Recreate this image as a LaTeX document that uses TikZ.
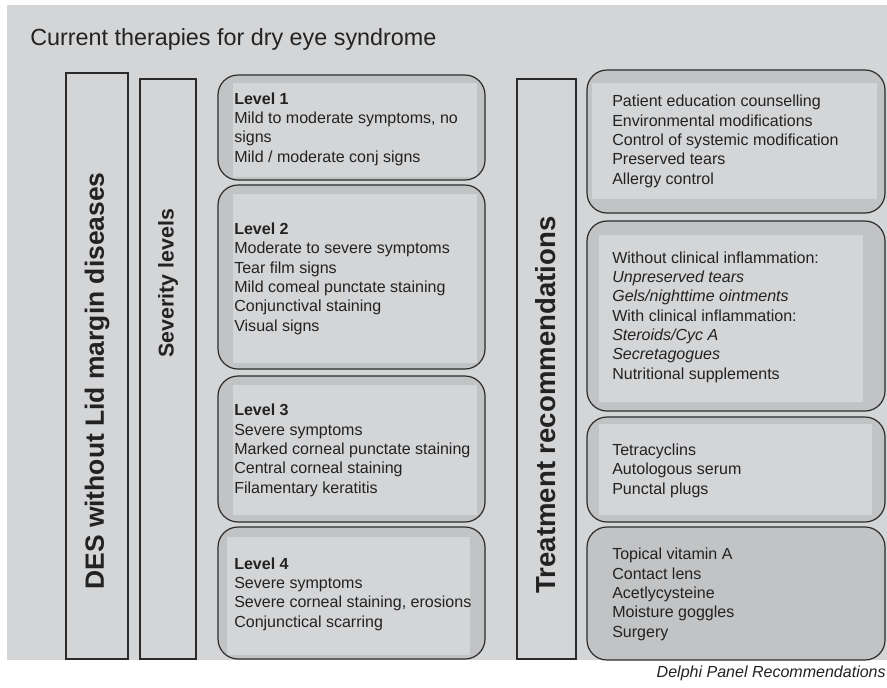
\documentclass[tikz,border=0pt]{standalone}
\usepackage{fontspec}
\setmainfont{Liberation Sans}
\usetikzlibrary{positioning}

\definecolor{panelgrey}{HTML}{D4D5D7}
\definecolor{shadegrey}{HTML}{C2C3C5}
\definecolor{edge}{HTML}{2B2B2B}
\definecolor{ink}{HTML}{222222}

\newcommand{\bodyfont}{\fontsize{11.4}{13.7}\selectfont}

\begin{document}
\begin{tikzpicture}[x=0.025cm, y=-0.025cm,
  bar/.style={draw=edge, line width=0.85pt, fill=panelgrey},
  card/.style={draw=edge, line width=0.85pt, rounded corners=5mm},
  % multi-line nodes sit on the baseline of their last line
  txt/.style={anchor=base west, align=left, inner sep=0pt, text=ink, font=\bodyfont},
  side/.style={rotate=90, inner sep=0pt, text=ink, font=\bfseries}]

\useasboundingbox (0,0) rectangle (887,687);
\fill[panelgrey] (7,5) rectangle (887,660);

\node[anchor=base west, inner sep=0pt, text=ink, font=\fontsize{16.6}{20}\selectfont]
  (title) at (30,45) {Current therapies for dry eye syndrome};

% the three upright bars
\draw[bar] (66,73) rectangle (128,659);
\draw[bar] (140,79) rectangle (196,659);
\draw[bar] (517,79) rectangle (576,659);

\node[side, font=\fontsize{18.8}{22}\selectfont\bfseries] (des) at (97,381) {DES without Lid margin diseases};
\node[side, font=\fontsize{15.2}{18}\selectfont\bfseries] (sev) at (168,283) {Severity levels};
\node[side, font=\fontsize{19.6}{23}\selectfont\bfseries] (treat) at (546,405) {Treatment recommendations};

% rounded cards: outer box / lighter inner panel
\foreach \xa/\ya/\xb/\yb/\ia/\ib/\ic/\id in {
    218/75/485/180/233/83/477/177,
    218/185/485/369/233/194/477/363,
    218/376/485/522/233/385/477/515,
    218/527/485/659/227/537/470/655,
    587/70/885/213/592/83/877/199,
    587/221/885/411/599/235/863/402,
    587/417/885/522/599/424/872/515}{
  \fill[shadegrey, rounded corners=5mm] (\xa,\ya) rectangle (\xb,\yb);
  \fill[panelgrey] (\ia,\ib) rectangle (\ic,\id);
  \draw[card] (\xa,\ya) rectangle (\xb,\yb);
}
% last card is plain shaded
\filldraw[card, fill=shadegrey] (587,527) rectangle (885,660);

% severity levels
\node[txt] (lvl1) at (234,162) {\textbf{Level 1}\\Mild to moderate symptoms, no\\signs\\Mild / moderate conj signs};
\node[txt] (lvl2) at (234,331) {\textbf{Level 2}\\Moderate to severe symptoms\\Tear film signs\\Mild comeal punctate staining\\Conjunctival staining\\Visual signs};
\node[txt] (lvl3) at (234,493) {\textbf{Level 3}\\Severe symptoms\\Marked corneal punctate staining\\Central corneal staining\\Filamentary keratitis};
\node[txt] (lvl4) at (234,627) {\textbf{Level 4}\\Severe symptoms\\Severe corneal staining, erosions\\Conjunctical scarring};

% treatments
\node[txt] (trt1) at (612,184) {Patient education counselling\\Environmental modifications\\Control of systemic modification\\Preserved tears\\Allergy control};
\node[txt] (trt2) at (612,379) {Without clinical inflammation:\\\textit{Unpreserved tears}\\\textit{Gels/nighttime ointments}\\With clinical inflammation:\\\textit{Steroids/Cyc A}\\\textit{Secretagogues}\\Nutritional supplements};
\node[txt] (trt3) at (612,494) {Tetracyclins\\Autologous serum\\Punctal plugs};
\node[txt] (trt4) at (612,637) {Topical vitamin A\\Contact lens\\Acetlycysteine\\Moisture goggles\\Surgery};

\node[anchor=base east, inner sep=0pt, text=ink, font=\bodyfont\itshape]
  (source) at (886,677) {Delphi Panel Recommendations};
\end{tikzpicture}
\end{document}
